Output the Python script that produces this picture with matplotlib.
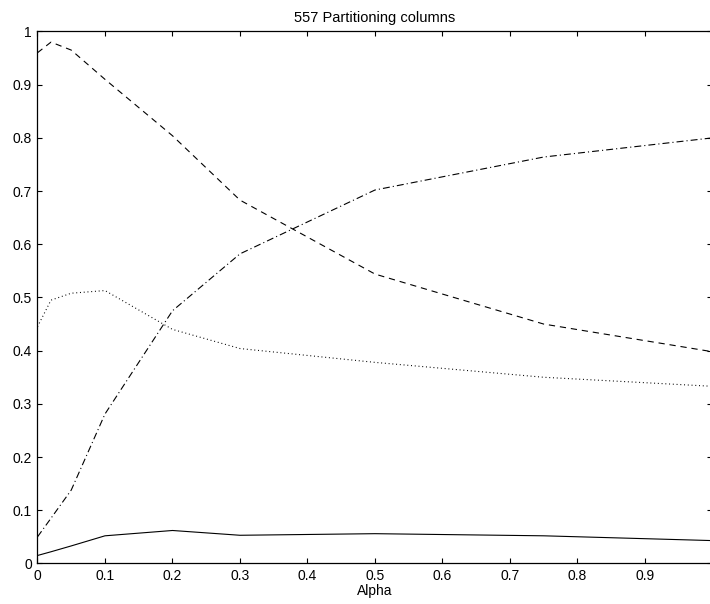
import matplotlib
matplotlib.use('Agg')
import matplotlib.pyplot as plt

plt.rcParams['font.family'] = ['Liberation Sans', 'DejaVu Sans']
plt.rcParams['lines.scale_dashes'] = False

alpha = [0, 0.02, 0.05, 0.1, 0.2, 0.3, 0.5, 0.75, 1.0]
dashed_vals = [0.96, 0.98, 0.965, 0.91, 0.804, 0.683, 0.544, 0.45, 0.398]
dashdot_vals = [0.05, 0.085, 0.138, 0.281, 0.475, 0.582, 0.702, 0.764, 0.80]
dotted_vals = [0.445, 0.495, 0.508, 0.513, 0.44, 0.404, 0.378, 0.35, 0.333]
solid_vals = [0.015, 0.022, 0.033, 0.052, 0.062, 0.053, 0.056, 0.052, 0.043]

xticks = [0, 0.1, 0.2, 0.3, 0.4, 0.5, 0.6, 0.7, 0.8, 0.9, 1]
yticks = [0, 0.1, 0.2, 0.3, 0.4, 0.5, 0.6, 0.7, 0.8, 0.9, 1]


def fmt(v):
    return '%g' % v


fig = plt.figure(figsize=(7.1, 6.04), dpi=100)
ax = fig.add_axes([0.0528, 0.0671, 0.9507, 0.8808])

lw = 0.8
ax.plot(alpha, solid_vals, color='black', lw=lw)
ax.plot(alpha, dashed_vals, color='black', lw=lw, dashes=(4.5, 3.5))
ax.plot(alpha, dotted_vals, color='black', lw=lw, dashes=(0.7, 2.0))
ax.plot(alpha, dashdot_vals, color='black', lw=lw, dashes=(5, 2.2, 0.8, 2.2))

ax.set_xlim(0, 1)
ax.set_ylim(0, 1)
ax.set_xticks(xticks)
ax.set_xticklabels([fmt(v) for v in xticks])
ax.set_yticks(yticks)
ax.set_yticklabels([fmt(v) for v in yticks])
ax.tick_params(direction='in', length=3.8, width=0.8, top=True, right=True,
               labelsize=10, pad=4)
for s in ax.spines.values():
    s.set_linewidth(0.9)

ax.set_xlabel('Alpha', fontsize=10, labelpad=1)
ax.set_title('557 Partitioning columns', fontsize=10.5, pad=7)

fig.savefig('out.png', dpi=100)
